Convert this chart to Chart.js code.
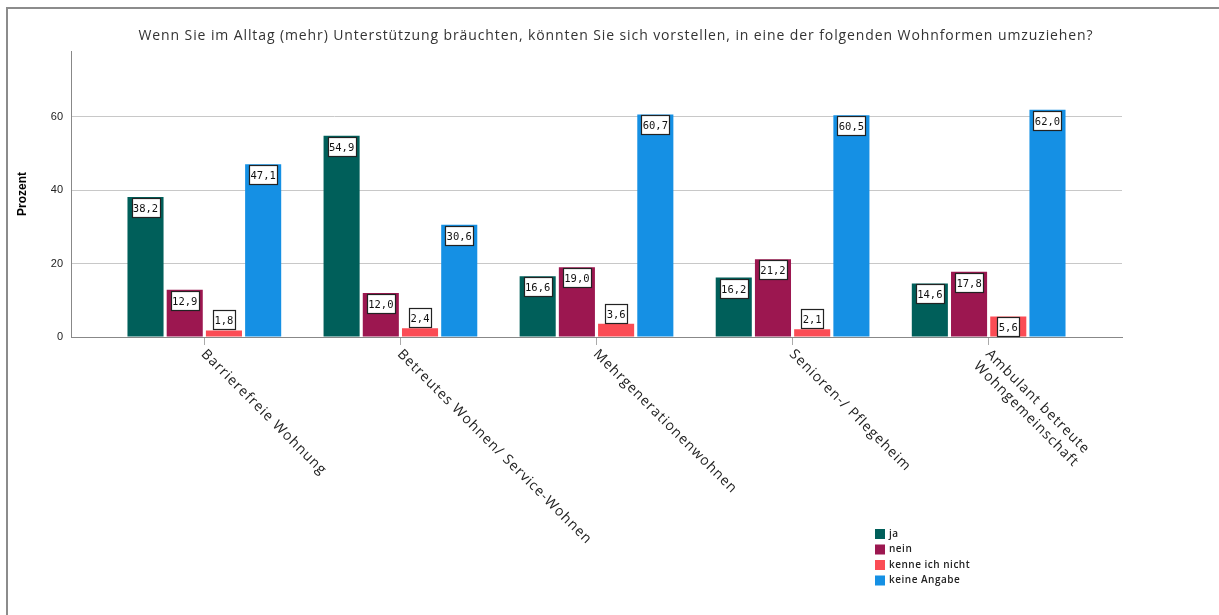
<!DOCTYPE html>
<html lang="de">
<head>
<meta charset="utf-8">
<script src="https://cdn.jsdelivr.net/npm/chart.js@4.4.1/dist/chart.umd.min.js"></script>
<title>Wohnformen</title>
<style>
  html, body { margin: 0; padding: 0; background: #fff; overflow: hidden; }
  #wrap { position: relative; width: 1219px; height: 615px; }
  #frame { position: absolute; left: 6px; top: 7px; width: 1400px; height: 800px;
           border: 2px solid #8c8c8c; box-sizing: border-box; }
  #wrap canvas { position: absolute; left: 0; top: 0; }
</style>
</head>
<body>
<div id="wrap">
  <div id="frame"></div>
  <canvas id="chart" width="1219" height="615"></canvas>
</div>
<script>
// Daten
const title = 'Wenn Sie im Alltag (mehr) Unterstützung bräuchten, könnten Sie sich vorstellen, in eine der folgenden Wohnformen umzuziehen?';
const categories = [
  ['Barrierefreie Wohnung'],
  ['Betreutes Wohnen/ Service-Wohnen'],
  ['Mehrgenerationenwohnen'],
  ['Senioren-/ Pflegeheim'],
  ['Ambulant betreute', 'Wohngemeinschaft']
];
const seriesNames = ['ja', 'nein', 'kenne ich nicht', 'keine Angabe'];
const ja          = [38.2, 54.9, 16.6, 16.2, 14.6];
const nein        = [12.9, 12.0, 19.0, 21.2, 17.8];
const kenneNicht  = [1.8, 2.4, 3.6, 2.1, 5.6];
const keineAngabe = [47.1, 30.6, 60.7, 60.5, 62.0];
const yTicks = [0, 20, 40, 60];
const colors = ['#005f5a', '#9c1750', '#fb4c55', '#1590e4'];

const seriesValues = [ja, nein, kenneNicht, keineAngabe];

function fmt(v) { return v.toFixed(1).replace('.', ','); }

// Wertebeschriftungen (weiße Kästchen)
const valueLabels = {
  id: 'valueLabels',
  afterDatasetsDraw(chart) {
    const ctx = chart.ctx;
    ctx.save();
    ctx.font = '10.5px "DejaVu Sans Mono", monospace';
    ctx.textAlign = 'center';
    ctx.textBaseline = 'middle';
    chart.data.datasets.forEach((ds, di) => {
      chart.getDatasetMeta(di).data.forEach((bar, i) => {
        const txt = fmt(seriesValues[di][i]);
        const w = Math.round(ctx.measureText(txt).width) + 3;
        const h = 19;
        const barH = bar.base - bar.y;
        let top = barH >= h ? bar.y + 1 : bar.y - h - 1;
        const left = Math.round(bar.x - w / 2) + 0.5;
        top = Math.round(top) + 0.5;
        ctx.fillStyle = '#fff';
        ctx.fillRect(left, top, w, h);
        ctx.strokeStyle = '#222';
        ctx.lineWidth = 1.2;
        ctx.strokeRect(left, top, w, h);
        ctx.fillStyle = '#111';
        ctx.fillText(txt, bar.x, top + h / 2 + 1);
      });
    });
    ctx.restore();
  }
};

// Titel, gedrehte Kategorien, Legende
const extras = {
  id: 'extras',
  afterDraw(chart) {
    const ctx = chart.ctx;
    const xs = chart.scales.x;
    const area = chart.chartArea;
    ctx.save();
    ctx.fillStyle = '#333';
    ctx.font = '14px "Open Sans"';
    ctx.letterSpacing = '0.9px';
    ctx.textAlign = 'center';
    ctx.textBaseline = 'middle';
    ctx.fillText(title, 616, 36);

    ctx.font = '14px "Open Sans"';
    ctx.letterSpacing = '1px';
    ctx.fillStyle = '#222';
    ctx.textAlign = 'left';
    ctx.textBaseline = 'top';
    categories.forEach((lines, i) => {
      const x = xs.getPixelForValue(i);
      ctx.save();
      ctx.translate(x + 4, area.bottom + 10);
      ctx.rotate(Math.PI / 4);
      lines.forEach((ln, k) => ctx.fillText(ln, 0, k * 17));
      ctx.restore();
    });

    ctx.font = '600 10px "Open Sans"';
    ctx.letterSpacing = '0.5px';
    ctx.textBaseline = 'middle';
    seriesNames.forEach((name, i) => {
      const y = 534 + i * 15.5;
      ctx.fillStyle = colors[i];
      ctx.fillRect(875, y - 5, 10, 10);
      ctx.fillStyle = '#222';
      ctx.fillText(name, 889, y);
    });
    ctx.restore();
  }
};

const ctx = document.getElementById('chart');
new Chart(ctx, {
  type: 'bar',
  data: {
    datasets: seriesNames.map((name, di) => ({
      label: name,
      data: seriesValues[di].map((v, i) => ({ x: i, y: v })),
      backgroundColor: colors[di],
      borderWidth: 0,
      categoryPercentage: 0.8,
      barPercentage: 0.92
    }))
  },
  options: {
    responsive: false,
    animation: false,
    layout: { padding: { top: 51, right: 97, bottom: 270, left: 0 } },
    plugins: {
      legend: { display: false },
      tooltip: { enabled: false },
      title: { display: false }
    },
    scales: {
      x: {
        type: 'linear',
        offset: false,
        min: -0.68,
        max: 4.68,
        afterBuildTicks: (s) => { s.ticks = categories.map((c, i) => ({ value: i })); },
        afterFit: (s) => { s.height = 8; },
        ticks: { display: false },
        grid: { offset: false, drawOnChartArea: false, drawTicks: true, tickLength: 8, color: '#aaa' },
        border: { color: '#888' }
      },
      y: {
        min: 0,
        max: 78,
        afterBuildTicks: (s) => { s.ticks = yTicks.map(v => ({ value: v })); },
        afterFit: (s) => { s.width = 71; },
        ticks: { color: '#222', font: { family: 'Liberation Sans', size: 11 }, padding: 8 },
        grid: { color: '#c8c8c8', drawTicks: false },
        border: { color: '#888' },
        title: { display: true, text: 'Prozent', color: '#000',
                 font: { family: 'Liberation Sans', size: 12, weight: 'bold' },
                 padding: { top: 15, bottom: 0 } }
      }
    }
  },
  plugins: [valueLabels, extras]
});
</script>
</body>
</html>
